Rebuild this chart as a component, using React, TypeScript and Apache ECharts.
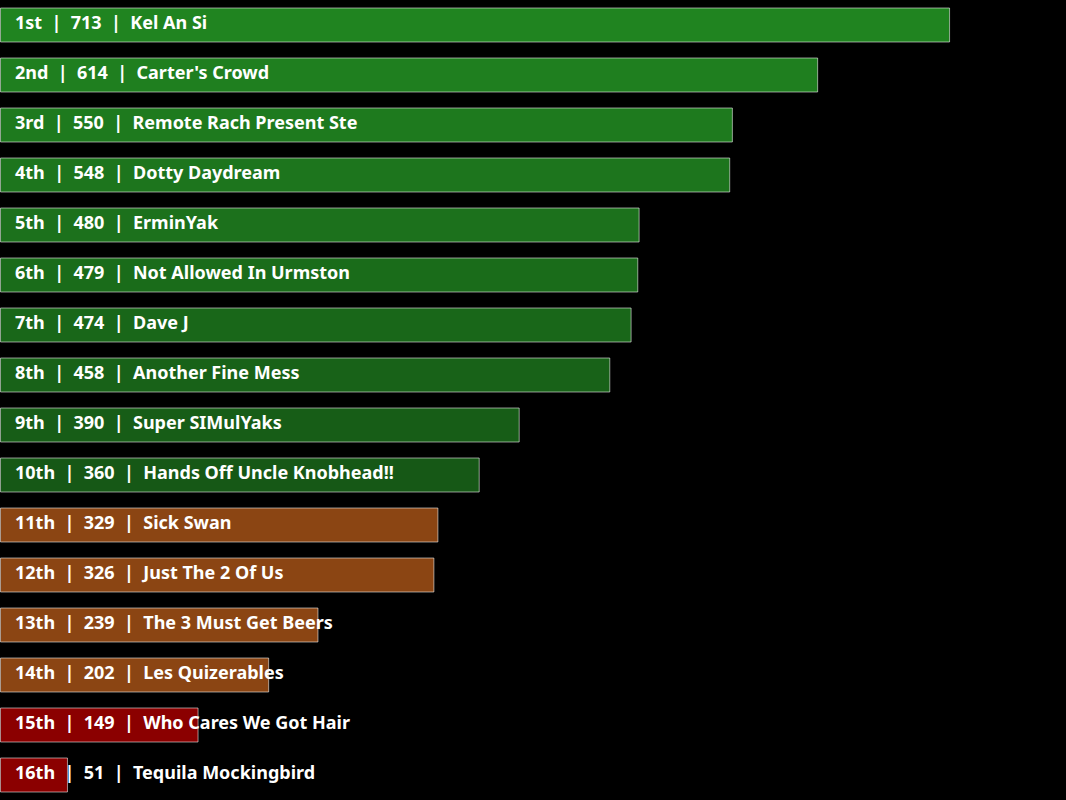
import React, { useEffect, useRef } from "react";
import * as echarts from "echarts";

const ranks = ["1st","2nd","3rd","4th","5th","6th","7th","8th","9th","10th","11th","12th","13th","14th","15th","16th"];
const teams = [
  "Kel An Si",
  "Carter's Crowd",
  "Remote Rach Present Ste",
  "Dotty Daydream",
  "ErminYak",
  "Not Allowed In Urmston",
  "Dave J",
  "Another Fine Mess",
  "Super SIMulYaks",
  "Hands Off Uncle Knobhead!!",
  "Sick Swan",
  "Just The 2 Of Us",
  "The 3 Must Get Beers",
  "Les Quizerables",
  "Who Cares We Got Hair",
  "Tequila Mockingbird",
];
const scores = [713, 614, 550, 548, 480, 479, 474, 458, 390, 360, 329, 326, 239, 202, 149, 51];

function barColor(i: number): string {
  if (i < 10) {
    const a = 0.95 - 0.035 * i;
    return `rgba(34,139,34,${a.toFixed(3)})`;
  }
  if (i < 14) return "#8B4513";
  return "#8B0000";
}

export default function App() {
  const ref = useRef<HTMLDivElement>(null);
  useEffect(() => {
    document.body.style.margin = "0";
    document.body.style.background = "#000";
    const chart = echarts.init(ref.current!, null, { renderer: "svg" });
    chart.setOption({
      animation: false,
      backgroundColor: "#000",
      grid: { left: 0, right: 0, top: 0, bottom: 0, containLabel: false },
      xAxis: { type: "value", min: 0, max: 800, show: false },
      yAxis: { type: "category", data: teams, inverse: true, show: false },
      series: [
        {
          type: "bar",
          barCategoryGap: "30%",
          data: scores.map((v, i) => ({
            value: v,
            itemStyle: { color: barColor(i) },
          })),
          itemStyle: { borderColor: "rgba(255,255,255,0.55)", borderWidth: 1 },
          label: {
            show: true,
            position: "insideLeft",
            distance: 15,
            offset: [0, -3],
            color: "#fff",
            fontFamily: "Noto Sans",
            fontWeight: "bold",
            fontSize: 18,
            formatter: (p: any) => `${ranks[p.dataIndex]}  |  ${scores[p.dataIndex]}  |  ${teams[p.dataIndex]}`,
          },
        },
      ],
    });
    return () => chart.dispose();
  }, []);
  return <div ref={ref} style={{ width: 1066, height: 800 }} />;
}
